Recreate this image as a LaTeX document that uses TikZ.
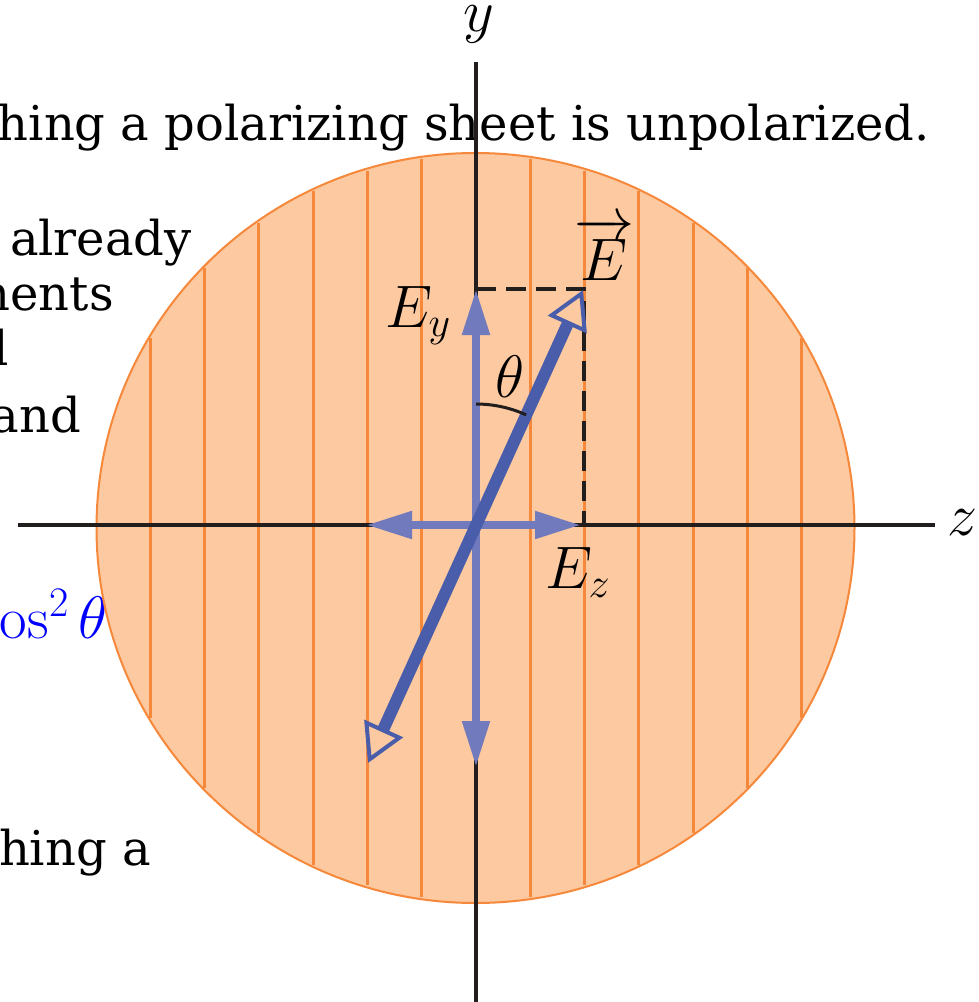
\RequirePackage{fix-cm}
\documentclass[tikz,border=0pt]{standalone}
\usepackage[no-math]{fontspec}
\setmainfont{DejaVu Serif}
\usepackage{amsmath}
\usetikzlibrary{arrows.meta}
\definecolor{peach}{RGB}{252,201,160}
\definecolor{hatch}{RGB}{245,136,58}
\definecolor{lblue}{RGB}{112,122,188}
\definecolor{dblue}{RGB}{74,93,170}
\definecolor{axiscol}{RGB}{34,30,30}
\begin{document}
\begin{tikzpicture}[x=1pt,y=-1pt,
  bgtext/.style={anchor=base east, inner sep=0pt, font=\fontsize{48}{58}\selectfont},
  lbl/.style={inner sep=0pt, font=\fontsize{60}{72}\selectfont},
  axisline/.style={draw=axiscol, line width=4pt},
  hatchline/.style={draw=hatch, line width=3pt},
  dashline/.style={draw=axiscol, line width=4pt, dash pattern=on 20pt off 10pt},
  comp/.style={draw=lblue, line width=8pt, -{Triangle[length=46pt,width=26pt]}},
  evec/.style={draw=dblue, line width=12pt,
    {Triangle[open,length=38pt,width=42pt,line width=4pt]}-{Triangle[open,length=38pt,width=42pt,line width=4pt]}},
  anglearc/.style={draw=axiscol, line width=3pt}]
\useasboundingbox (0,0) rectangle (978,1002);
\clip (0,0) rectangle (978,1002);
% background text fragments
\node[bgtext] (t1) at (930,140) {hing a polarizing sheet is unpolarized.};
\node[bgtext] (t2) at (192,255) {already};
\node[bgtext] (t3) at (114,310) {nents};
\node[bgtext] (t4) at (9,365) {l};
\node[bgtext] (t5) at (81,432) {and};
\node[bgtext] (t6) at (151,865) {hing a};
\node[anchor=base east, inner sep=0pt, text=blue, font=\fontsize{60}{72}\selectfont] (t7) at (108,638) {$\mathrm{os}^2\,\theta$};
% polarizing sheet
\fill[peach] (475.5,528) ellipse[x radius=379pt, y radius=375pt];
\foreach \dx in {-325.5,-271.3,-217.1,-162.9,-108.7,-54.5,54.5,108.7,162.9,217.1,271.3,325.5}{
  \pgfmathsetmacro\dy{375*sqrt(1-(\dx/379)*(\dx/379))-2}
  \draw[hatchline] ({476+\dx},{528-\dy}) -- ({476+\dx},{528+\dy});
}
\draw[draw=hatch, line width=2pt] (475.5,528) ellipse[x radius=379pt, y radius=375pt];
% axes
\coordinate (O) at (476,525);
\coordinate (zl) at (18,525);
\coordinate (zr) at (935,525);
\coordinate (yt) at (476,62);
\coordinate (yb) at (476,1002);
\draw[axisline] (zl) -- (zr);
\draw[axisline] (yt) -- (yb);
\node[lbl] (ylab) at (479,24) {$y$};
\node[lbl] (zlab) at (962,523) {$z$};
% dashed projection lines
\coordinate (Ey) at (476,289);
\coordinate (P) at (584,289);
\coordinate (Ez) at (584,525);
\draw[dashline] (Ey) -- (P) -- (Ez);
% components
\coordinate (Eyt) at (476,289);
\coordinate (Eyb) at (476,767);
\coordinate (Ezr) at (581,525);
\coordinate (Ezl) at (366,525);
\draw[comp] (O) -- (Eyt);
\draw[comp] (O) -- (Eyb);
\draw[comp] (O) -- (Ezr);
\draw[comp] (O) -- (Ezl);
% E vector
\coordinate (Et) at (583,290);
\coordinate (Eb) at (368,763);
\draw[evec] (Eb) -- (Et);
% angle
\draw[anglearc] plot[domain=65.5:90, samples=25] ({476+121*cos(\x)},{525-121*sin(\x)});
\node[lbl] (th) at (510,377) {$\theta$};
\node[lbl, anchor=base] (Elab) at (604,280) {$\overrightarrow{E}$};
\node[lbl, anchor=base west] (Eylab) at (385,327) {$E_y$};
\node[lbl, anchor=base west] (Ezlab) at (545,588) {$E_z$};
\end{tikzpicture}
\end{document}
